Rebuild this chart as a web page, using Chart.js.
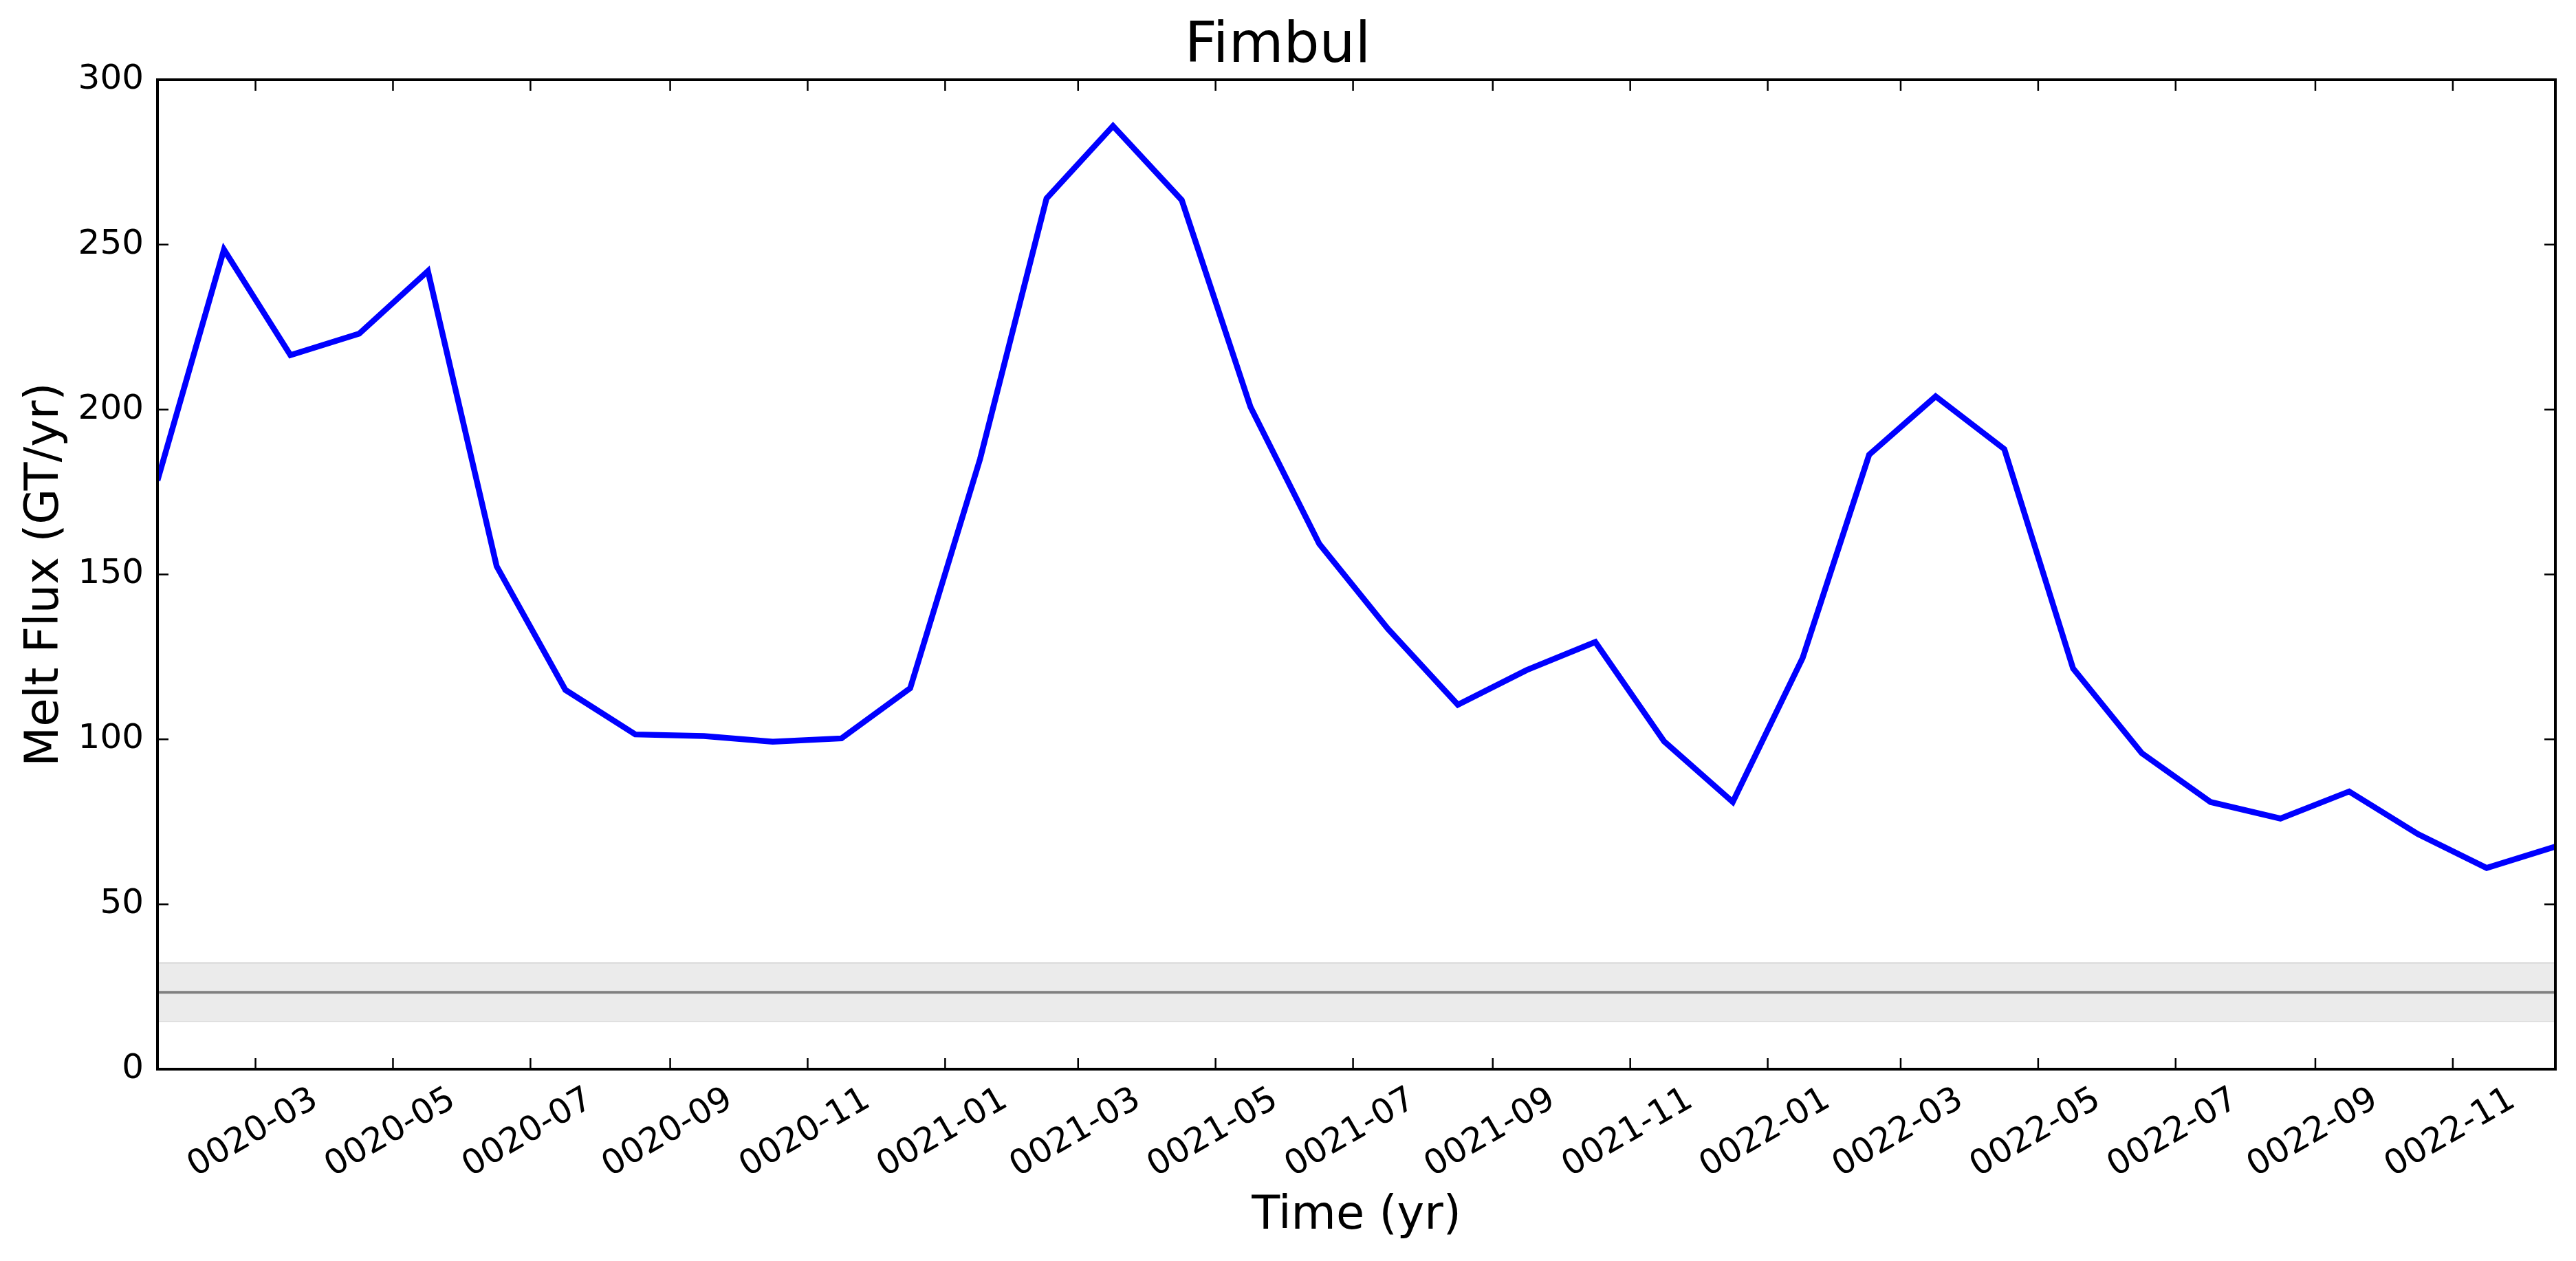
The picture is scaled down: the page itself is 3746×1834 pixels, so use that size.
<!DOCTYPE html>
<html><head><meta charset="utf-8">
<script src="https://cdn.jsdelivr.net/npm/chart.js@4"></script>
<style>html,body{margin:0;padding:0;background:#fff}</style>
</head><body>
<canvas id="c" width="3746" height="1834"></canvas>
<script>
// ---- data ----
const months = ['0020-01','0020-02','0020-03','0020-04','0020-05','0020-06','0020-07','0020-08','0020-09','0020-10','0020-11','0020-12',
                '0021-01','0021-02','0021-03','0021-04','0021-05','0021-06','0021-07','0021-08','0021-09','0021-10','0021-11','0021-12',
                '0022-01','0022-02','0022-03','0022-04','0022-05','0022-06','0022-07','0022-08','0022-09','0022-10','0022-11','0022-12'];
const meltFlux = [178.5, 248.5, 216.5, 223.0, 242.0, 152.5, 115.0, 101.5, 101.0, 99.3, 100.3, 115.5,
                  185.0, 264.0, 286.0, 263.5, 200.8, 159.3, 133.5, 110.5, 121.0, 129.5, 99.4, 81.0,
                  124.7, 186.3, 204.0, 188.0, 121.5, 95.8, 81.0, 76.0, 84.2, 71.3, 61.0, 67.5];
const tickLabels = ['0020-03','0020-05','0020-07','0020-09','0020-11','0021-01','0021-03','0021-05','0021-07',
                    '0021-09','0021-11','0022-01','0022-03','0022-05','0022-07','0022-09','0022-11'];
const yTicks = [0, 50, 100, 150, 200, 250, 300];
const meanFlux = 23.3;
const bandLow = 14.6;
const bandHigh = 32.2;

// ---- noleap calendar helpers ----
const monthLen = [31,28,31,30,31,30,31,31,30,31,30,31];
function monthStartDay(lbl){
  const [y,m] = lbl.split('-').map(Number);
  let d = (y-20)*365;
  for(let i=0;i<m-1;i++) d += monthLen[i];
  return d;
}
function monthMidDay(lbl){
  const m = Number(lbl.split('-')[1]);
  return monthStartDay(lbl) + monthLen[m-1]/2;
}
const xs = months.map(monthMidDay);
const xmin = xs[0], xmax = xs[xs.length-1];
const tickDays = tickLabels.map(monthStartDay);
const labelByDay = {};
tickLabels.forEach((l,i)=>{labelByDay[tickDays[i]] = l;});

const FONT = 'DejaVu Sans';

const framePlugin = {
  id:'frame',
  afterDatasetsDraw(chart){
    const {ctx, chartArea:a, scales} = chart;
    ctx.save();
    ctx.strokeStyle = '#000';
    ctx.lineWidth = 2.5;
    ctx.beginPath();
    scales.x.ticks.forEach(t=>{
      const px = scales.x.getPixelForValue(t.value);
      ctx.moveTo(px, a.bottom); ctx.lineTo(px, a.bottom-16);
      ctx.moveTo(px, a.top); ctx.lineTo(px, a.top+16);
    });
    scales.y.ticks.forEach(t=>{
      const py = scales.y.getPixelForValue(t.value);
      ctx.moveTo(a.left, py); ctx.lineTo(a.left+16, py);
      ctx.moveTo(a.right, py); ctx.lineTo(a.right-16, py);
    });
    ctx.stroke();
    ctx.lineWidth = 4;
    ctx.strokeRect(a.left, a.top, a.right-a.left, a.bottom-a.top);
    ctx.restore();
  }
};

new Chart(document.getElementById('c'), {
  type:'line',
  data:{
    datasets:[
      {label:'Melt flux', data: xs.map((x,i)=>({x, y: meltFlux[i]})), borderColor:'#0000ff', borderWidth:8.5,
       pointRadius:0, fill:false, tension:0, borderJoinStyle:'miter'},
      {label:'mean', data:[{x:xmin,y:meanFlux},{x:xmax,y:meanFlux}], borderColor:'#808080', borderWidth:4, pointRadius:0, fill:false},
      {label:'high', data:[{x:xmin,y:bandHigh},{x:xmax,y:bandHigh}], borderColor:'#dcdcdc', borderWidth:2.5, pointRadius:0,
       fill:'+1', backgroundColor:'#ebebeb'},
      {label:'low', data:[{x:xmin,y:bandLow},{x:xmax,y:bandLow}], borderColor:'#dcdcdc', borderWidth:2.5, pointRadius:0, fill:false}
    ]
  },
  options:{
    responsive:false, animation:false,
    layout:{padding:{left:0,right:30,top:0,bottom:0}},
    plugins:{
      legend:{display:false}, tooltip:{enabled:false},
      title:{display:true, text:'Fimbul', color:'#000', font:{family:FONT, size:82, weight:'normal', lineHeight:1.0}, padding:{top:28,bottom:6}}
    },
    scales:{
      x:{
        type:'linear', min:xmin, max:xmax,
        grid:{display:false, drawTicks:false}, border:{display:false},
        afterBuildTicks:(s)=>{ s.ticks = tickDays.map(v=>({value:v})); },
        afterFit:(s)=>{ s.height = 279; },
        ticks:{autoSkip:false, minRotation:30, maxRotation:30, labelOffset:87, padding:15, color:'#000',
               font:{family:FONT, size:50}, callback:(v)=>labelByDay[v] ?? ''},
        title:{display:true, text:'Time (yr)', color:'#000', font:{family:FONT, size:67}, padding:{top:0,bottom:24}}
      },
      y:{
        min:0, max:300,
        grid:{display:false, drawTicks:false}, border:{display:false},
        afterBuildTicks:(s)=>{ s.ticks = yTicks.map(v=>({value:v})); },
        afterFit:(s)=>{ s.width = 229; },
        ticks:{padding:20, color:'#000', font:{family:FONT, size:50}},
        title:{display:true, text:'Melt Flux (GT/yr)', color:'#000', font:{family:FONT, size:67}, padding:{top:26,bottom:0}}
      }
    }
  },
  plugins:[framePlugin]
});
</script>
</body></html>
